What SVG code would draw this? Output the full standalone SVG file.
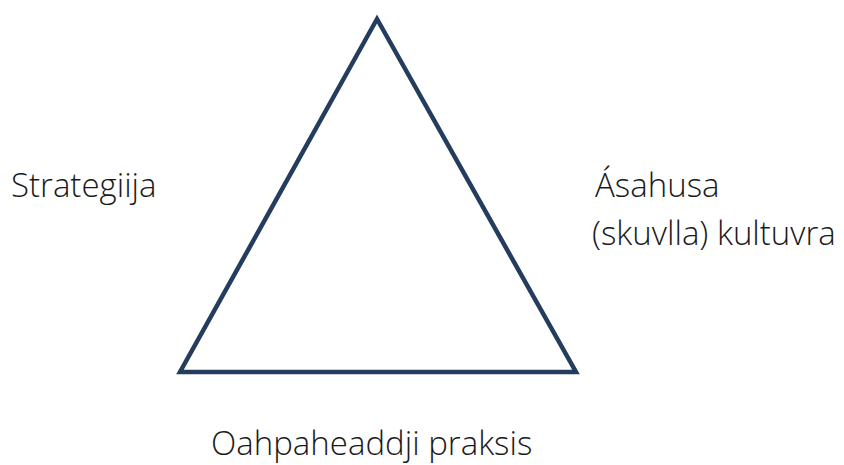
<svg xmlns="http://www.w3.org/2000/svg" width="844" height="465" viewBox="0 0 844 465">
<style>
.lbl{font-family:"Segoe UI","Open Sans","Noto Sans",sans-serif;font-weight:300;font-size:33px;fill:#1a1a1a}
.tri{fill:none;stroke:#243d5f;stroke-width:4.5;stroke-linejoin:miter}
</style>
<rect width="844" height="465" fill="#ffffff"/>
<g id="triangle"><polygon class="tri" points="377,19 180,372 576,372"/></g>
<g id="connectors"/>
<g id="strategiija"><text class="lbl" x="11" y="197">Strategiija</text></g>
<g id="asahusa"><text class="lbl" x="595" y="197">Ásahusa</text><text class="lbl" x="592" y="245">(skuvlla) kultuvra</text></g>
<g id="praksis"><text class="lbl" x="211" y="455">Oahpaheaddji praksis</text></g>
</svg>
